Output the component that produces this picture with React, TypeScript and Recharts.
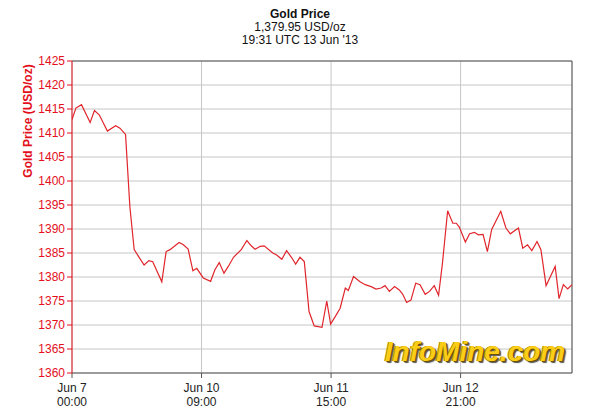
import React from "react";
import {
  LineChart,
  Line,
  XAxis,
  YAxis,
  CartesianGrid,
  ReferenceLine,
} from "recharts";

// hours of trading time since Jun 7 00:00 (weekend skipped, 30h between ticks)
const hours = [
  0, 0.9, 2.2, 4.2, 5.2, 6.3, 8.2, 10.1, 11.1, 12.4, 13.4, 14.4, 15.4, 16.7,
  17.8, 18.7, 20.8, 21.8, 22.7, 24.8, 25.8, 26.9, 28.0, 28.9, 30.4, 32.1, 33.1,
  34.1, 35.2, 36.2, 37.4, 39.2, 40.5, 41.5, 42.4, 43.6, 44.5, 46.5, 47.4, 48.6,
  49.7, 50.9, 51.8, 52.8, 53.8, 54.9, 56.1, 57.9, 59.0, 59.9, 61.2, 62.1, 63.3,
  64.0, 65.2, 66.7, 67.9, 69.3, 70.4, 71.6, 72.5, 73.5, 74.7, 75.8, 76.6, 77.5,
  78.5, 79.6, 80.6, 81.8, 82.8, 83.9, 84.9, 85.8, 87.0, 88.2, 89.0, 89.7, 91.1,
  92.1, 93.2, 94.1, 95.2, 96.2, 97.2, 99.3, 100.5, 101.5, 103.4, 104.4, 105.5,
  106.5, 107.7, 108.6, 109.8, 111.9, 112.8, 113.8, 114.8, 115.8,
];

const prices = [
  1412.8, 1415.2, 1415.9, 1412.2, 1414.7, 1413.8, 1410.4, 1411.5, 1411.0,
  1409.7, 1394.7, 1385.7, 1384.3, 1382.5, 1383.4, 1383.2, 1379.0, 1385.3,
  1385.7, 1387.2, 1386.7, 1385.8, 1381.3, 1381.8, 1379.8, 1379.1, 1381.5,
  1383.0, 1380.8, 1382.2, 1384.1, 1385.7, 1387.6, 1386.5, 1385.8, 1386.4,
  1386.5, 1385.0, 1384.6, 1383.7, 1385.5, 1384.0, 1382.7, 1384.1, 1383.2,
  1372.8, 1369.8, 1369.5, 1375.0, 1370.2, 1372.1, 1373.5, 1377.7, 1377.2,
  1380.1, 1379.0, 1378.4, 1378.0, 1377.5, 1377.7, 1378.2, 1377.0, 1378.0,
  1377.3, 1376.4, 1374.7, 1375.2, 1378.7, 1378.4, 1376.4, 1377.0, 1378.2,
  1376.2, 1382.9, 1393.8, 1391.2, 1391.2, 1390.4, 1387.3, 1389.0, 1389.3,
  1388.8, 1388.9, 1385.3, 1389.9, 1393.7, 1390.2, 1389.0, 1390.2, 1386.0,
  1386.7, 1385.5, 1387.4, 1385.7, 1378.2, 1382.2, 1375.5, 1378.4, 1377.5,
  1378.4,
];

const xTicks = [0, 30, 60, 90];
const xTickDates = ["Jun 7", "Jun 10", "Jun 11", "Jun 12"];
const xTickTimes = ["00:00", "09:00", "15:00", "21:00"];
const yTicks = [
  1360, 1365, 1370, 1375, 1380, 1385, 1390, 1395, 1400, 1405, 1410, 1415,
  1420, 1425,
];
const xEnd = 115.8;

const data = hours.map((h, i) => ({ h, price: prices[i] }));

const FONT = "'Liberation Sans', Arial, sans-serif";
const RED = "#e3101c";

function XTick(props: any) {
  const { x, y, payload } = props;
  const i = xTicks.indexOf(payload.value);
  return (
    <g>
      <text x={x} y={y + 12} textAnchor="middle" fontSize={12} fill="#222" fontFamily={FONT}>
        {xTickDates[i]}
      </text>
      <text x={x} y={y + 26} textAnchor="middle" fontSize={12} fill="#222" fontFamily={FONT}>
        {xTickTimes[i]}
      </text>
    </g>
  );
}

function YLabel() {
  return (
    <text
      x={32}
      y={121}
      transform="rotate(-90 32 121)"
      textAnchor="middle"
      fontSize={12}
      fontWeight="bold"
      fill={RED}
      fontFamily={FONT}
    >
      Gold Price (USD/oz)
    </text>
  );
}

export default function App() {
  return (
    <div
      style={{
        position: "absolute",
        left: 0,
        top: 0,
        width: 600,
        height: 413,
        background: "#fff",
        fontFamily: FONT,
      }}
    >
      <div style={{ position: "absolute", top: 8, left: 0, width: 600, textAlign: "center", fontSize: 12, lineHeight: "13px", color: "#111" }}>
        <div style={{ fontWeight: "bold" }}>Gold Price</div>
        <div>1,379.95 USD/oz</div>
        <div>19:31 UTC 13 Jun '13</div>
      </div>
      <LineChart
        width={600}
        height={413}
        data={data}
        margin={{ top: 61, right: 28, bottom: 4, left: 0 }}
        style={{ position: "absolute", left: 0, top: 0 }}
      >
        <CartesianGrid stroke="#c6c6c6" strokeWidth={1} />
        <XAxis
          dataKey="h"
          type="number"
          domain={[0, xEnd]}
          ticks={xTicks}
          height={36}
          tick={<XTick />}
          tickSize={5}
          axisLine={{ stroke: "#555" }}
          tickLine={{ stroke: "#555" }}
          allowDataOverflow
        />
        <YAxis
          type="number"
          domain={[1360, 1425]}
          ticks={yTicks}
          width={72}
          interval={0}
          tickSize={5}
          tickMargin={2}
          tick={{ fill: RED, fontSize: 12, fontFamily: FONT }}
          axisLine={{ stroke: RED }}
          tickLine={{ stroke: RED }}
          label={<YLabel />}
        />
        <ReferenceLine y={1425} stroke="#555" />
        <ReferenceLine x={xEnd} stroke="#555" />
        <Line
          type="linear"
          dataKey="price"
          stroke="#e0262c"
          strokeWidth={1.2}
          dot={false}
          isAnimationActive={false}
        />
      </LineChart>
      <div
        style={{
          position: "absolute",
          left: 378,
          top: 336,
          width: 194,
          textAlign: "center",
          fontSize: 28,
          fontWeight: "bold",
          fontStyle: "italic",
          color: "#fbcd17",
          letterSpacing: 0,
          textShadow: "1px 1px 0 #6b5200, -1px 0 0 #b08a00, 2px 2px 1px #555",
        }}
      >
        InfoMine.com
      </div>
    </div>
  );
}
